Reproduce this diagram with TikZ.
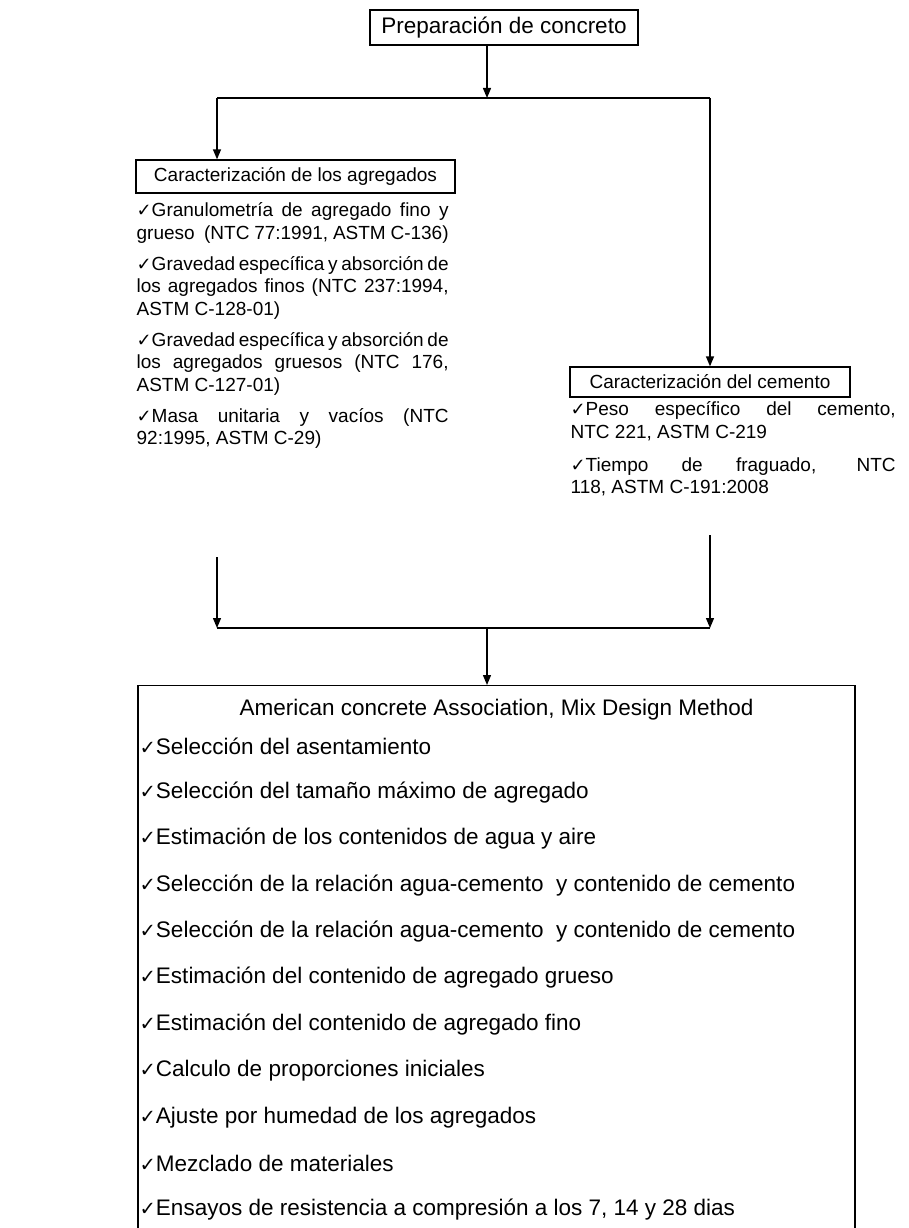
\documentclass[tikz,border=0pt]{standalone}
\usepackage{fontspec}
\setmainfont{Liberation Sans}
\newfontfamily\symfont{DejaVu Sans}
\usepackage{tikz}
\usetikzlibrary{positioning}
\usetikzlibrary{arrows.meta}
\newcommand{\chk}{{\symfont\fontsize{18}{18}\selectfont ✓}}
\newcommand{\bchk}{{\symfont\fontsize{19.5}{19.5}\selectfont ✓}}
\newcommand{\hdfont}{\fontsize{22.5}{27}\selectfont}
\newcommand{\lsfont}{\fontsize{19}{22.7}\selectfont}
\tikzset{
  arr/.style={-{Triangle[length=10pt,width=8pt]}},
  hbox/.style={draw, inner sep=0pt, font=\hdfont},
  colhead/.style={draw, inner sep=0pt, font=\lsfont},
  lst/.style={inner sep=0pt, anchor=north west, align=justify, font=\lsfont},
  selitem/.style={inner sep=0pt, anchor=west, font=\hdfont}
}

\begin{document}
\begin{tikzpicture}[x=1pt,y=-1pt,line width=1.3pt]
\useasboundingbox (0,0) rectangle (908,1228);
\node[hbox, minimum width=268, minimum height=35] (prep) at (504,27.5) {Preparación de concreto};
\coordinate (split) at (487,98);
\coordinate (lft) at (217,98);
\coordinate (rgt) at (710,98);
\draw[arr] (prep.south -| split) -- (split);
\draw (lft) -- (rgt);
% left column
\node[colhead, minimum width=319, minimum height=33] (agg) at (295.5,176.5) {Caracterización de los agregados};
\draw[arr] (lft) -- (lft |- agg.north);
\node[lst, text width=312] (agglist) at (136,202) {\setlength{\parindent}{0pt}\setlength{\parskip}{8pt}%
\chk Granulometría de agregado fino y\linebreak grueso\ \ (NTC 77:1991, ASTM C-136)\par
\chk Gravedad específica y absorción de\linebreak los agregados finos (NTC 237:1994,\linebreak ASTM C-128-01)\par
\chk Gravedad específica y absorción de\linebreak los agregados gruesos (NTC 176,\linebreak ASTM C-127-01)\par
\chk Masa unitaria y vacíos (NTC\linebreak 92:1995, ASTM C-29)};
% right column
\node[colhead, minimum width=280, minimum height=30] (cem) at (710,382) {Caracterización del cemento};
\draw[arr] (rgt) -- (cem.north);
\node[lst, text width=325] (cemlist) at (570,401) {\setlength{\parindent}{0pt}\setlength{\parskip}{10pt}%
\chk Peso específico del cemento,\linebreak NTC 221, ASTM C-219\par
\chk Tiempo de fraguado, NTC\linebreak 118, ASTM C-191:2008};
% join
\coordinate (aggout) at (217,557);
\coordinate (cemout) at (710,535);
\coordinate (jl) at (217,628);
\coordinate (jr) at (710,628);
\coordinate (jm) at (487,628);
\draw[arr] (aggout) -- (jl);
\draw[arr] (cemout) -- (jr);
\draw (jl) -- (jr);
% mix design
\node[draw, inner sep=0pt, minimum width=717, minimum height=560, anchor=north] (aci) at (496.5,685) {};
\draw[arr] (jm) -- (jm |- aci.north);
\node[selitem, anchor=center] (acititle) at (496.5,710) {American concrete Association, Mix Design Method};
\foreach \txt [count=\i] in {Selección del asentamiento,
  Selección del tamaño máximo de agregado,
  Estimación de los contenidos de agua y aire,
  Selección de la relación agua-cemento\ \ y contenido de cemento,
  Selección de la relación agua-cemento\ \ y contenido de cemento,
  Estimación del contenido de agregado grueso,
  Estimación del contenido de agregado fino,
  Calculo de proporciones iniciales,
  Ajuste por humedad de los agregados,
  Mezclado de materiales,
  {Ensayos de resistencia a compresión a los 7, 14 y 28 dias}}
  \node[selitem] (sel\i) at (139,699.6+46.4*\i) {\bchk\txt};
\end{tikzpicture}
\end{document}
